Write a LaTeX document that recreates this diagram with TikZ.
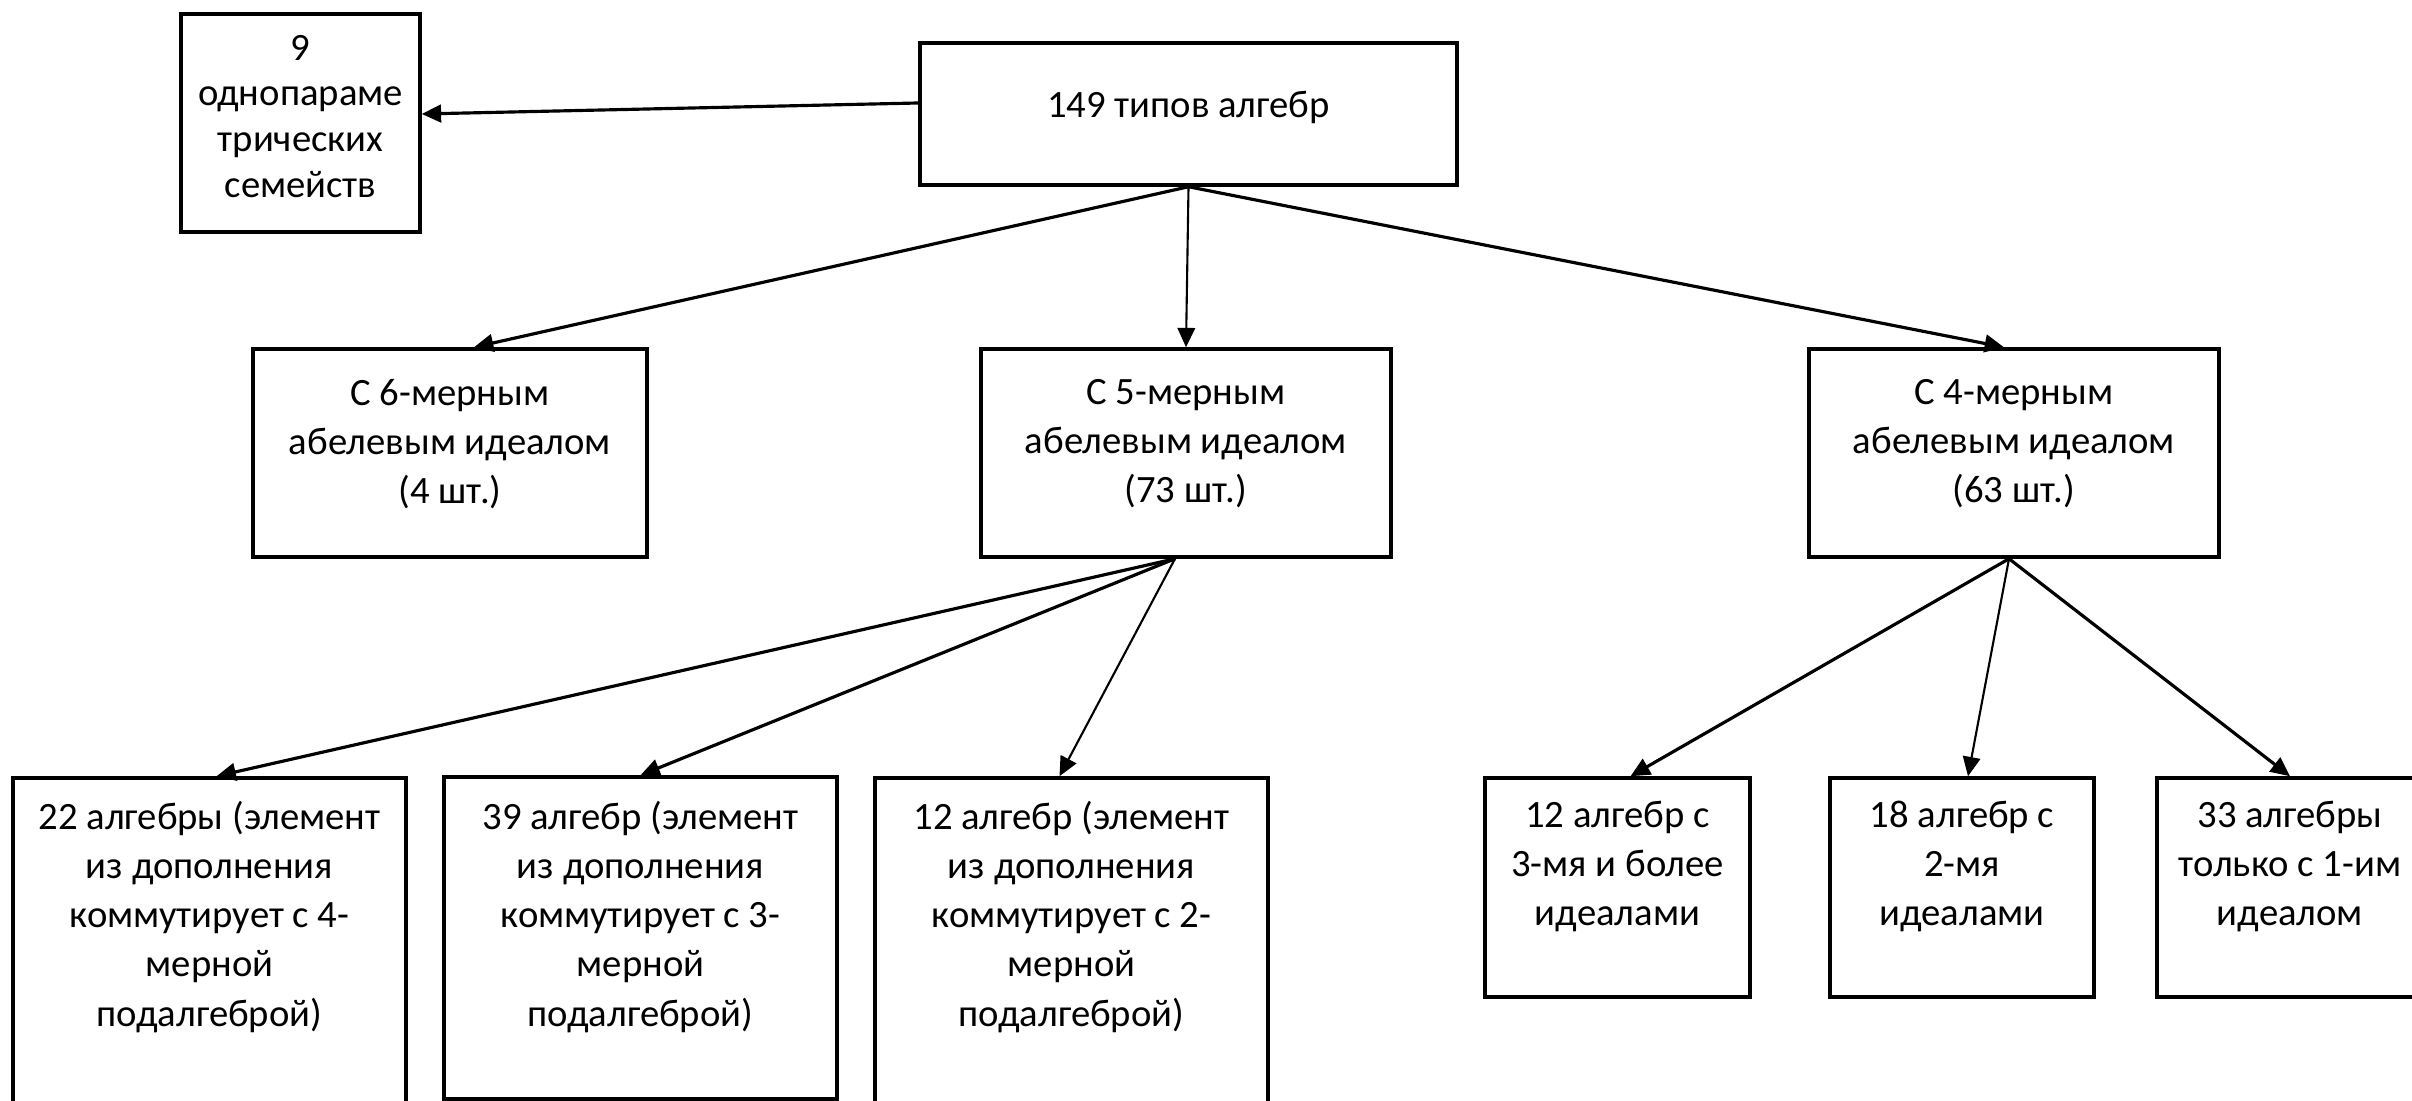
\documentclass[tikz,border=0pt]{standalone}
\usepackage{fontspec}
\setmainfont{Carlito}
\usetikzlibrary{arrows.meta,positioning,fit}

\begin{document}
\begin{tikzpicture}[x=0.01cm, y=-0.01cm,
		box/.style = {draw=black, line width=1pt, inner sep=0pt},
		txt/.style = {align=center, inner sep=0pt, font=\fontsize{11}{14}\selectfont},
		arr/.style = {-{Triangle[length=5.5pt, width=5pt]}, line width=0.9pt},
		arrlight/.style = {arr, line width=0.6pt}, ]
	\clip (0,0) rectangle (2412,1101);
	\fill[white] (0,0) rectangle (2412,1101);
	% boxes
	\node [box, fit={(181,14) (420,232)}] (fam) {};
	\node [box, fit={(920,43) (1457,185)}] (root) {};
	\node [box, fit={(253,349) (647,557)}] (c6) {};
	\node [box, fit={(981,349) (1391,557)}] (c5) {};
	\node [box, fit={(1809,349) (2219,557)}] (c4) {};
	\node [box, fit={(13,778) (406,1120)}] (b1) {};
	\node [box, fit={(444,777) (837,1099)}] (b2) {};
	\node [box, fit={(875,778) (1268,1120)}] (b3) {};
	\node [box, fit={(1485,778) (1750,997)}] (d1) {};
	\node [box, fit={(1830,778) (2094,997)}] (d2) {};
	\node [box, fit={(2157,778) (2423,997)}] (d3) {};
	% texts
	\node [txt, font=\fontsize{11}{13}\selectfont, below=0.22cm of fam.north] (famT) {9\\однопараме\\трических\\семейств};
	\node [txt, below=0.49cm of root.north] (rootT) {149 типов алгебр};
	\node [txt, below=0.31cm of c6.north] (c6T) {С 6-мерным\\абелевым идеалом\\(4 шт.)};
	\node [txt, below=0.31cm of c5.north] (c5T) {С 5-мерным\\абелевым идеалом\\(73 шт.)};
	\node [txt, below=0.31cm of c4.north] (c4T) {С 4-мерным\\абелевым идеалом\\(63 шт.)};
	\node [txt, below=0.24cm of b1.north] (b1T) {22 алгебры (элемент\\из дополнения\\коммутирует с 4-\\мерной\\подалгеброй)};
	\node [txt, below=0.25cm of b2.north] (b2T) {39 алгебр (элемент\\из дополнения\\коммутирует с 3-\\мерной\\подалгеброй)};
	\node [txt, below=0.24cm of b3.north] (b3T) {12 алгебр (элемент\\из дополнения\\коммутирует с 2-\\мерной\\подалгеброй)};
	\node [txt, below=0.24cm of d1.north] (d1T) {12 алгебр с\\3-мя и более\\идеалами};
	\node [txt, below=0.24cm of d2.north] (d2T) {18 алгебр с\\2-мя\\идеалами};
	\node [txt, below=0.24cm of d3.north] (d3T) {33 алгебры\\только с 1-им\\идеалом};
	% arrows
	\draw [arr] ([yshift=0.11cm]root.west) -- ([yshift=0.09cm]fam.east);
	\draw [arr] (root.south) -- ([xshift=0.24cm]c6.north);
	\draw [arrlight] (root.south) -- (c5.north);
	\draw [arr] (root.south) -- ([xshift=-0.1cm]c4.north);
	\draw [arr] ([xshift=-0.11cm]c5.south) -- ([xshift=0.07cm]b1.north);
	\draw [arr] ([xshift=-0.11cm]c5.south) -- (b2.north);
	\draw [arrlight] ([xshift=-0.11cm]c5.south) -- ([xshift=-0.12cm]b3.north);
	\draw [arr] ([xshift=-0.05cm]c4.south) -- ([xshift=0.13cm]d1.north);
	\draw [arrlight] ([xshift=-0.05cm]c4.south) -- ([xshift=0.06cm]d2.north);
	\draw [arr] ([xshift=-0.05cm]c4.south) -- (d3.north);
\end{tikzpicture}
\end{document}
